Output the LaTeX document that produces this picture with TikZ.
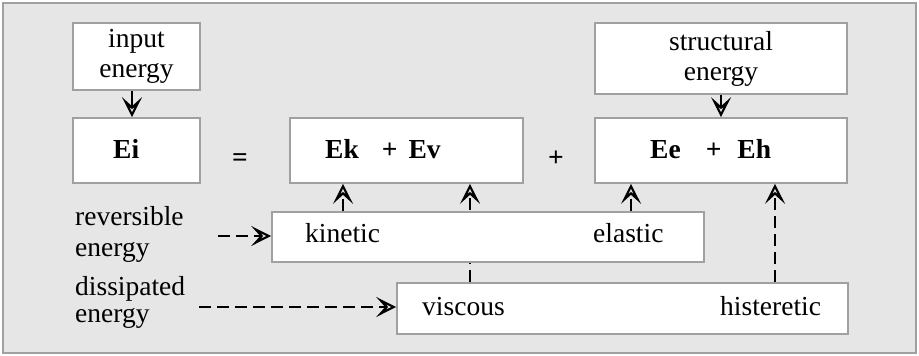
\documentclass[tikz,border=0pt]{standalone}
\usepackage{fontspec}
\setmainfont{Liberation Serif}
\usetikzlibrary{arrows.meta}
\pgfdeclarelayer{bg}
\pgfsetlayers{bg,main}
\definecolor{bggray}{HTML}{E6E6E6}
\definecolor{boxgray}{HTML}{A0A0A0}
\begin{document}
\begin{tikzpicture}[x=1pt,y=-1pt,
  font=\fontsize{27.5}{30}\selectfont,
  box/.style={draw=boxgray, line width=1.6pt, fill=white, inner sep=0pt},
  lbl/.style={inner sep=0pt},
  arr/.style={line width=2.6pt, -{Stealth[open, length=20pt, width=20pt, inset=9pt, line width=2.2pt]}},
  darr/.style={arr, dash pattern=on 12pt off 6pt}]
\useasboundingbox (0,0) rectangle (919,356);
\begin{pgfonlayer}{bg}
\draw[fill=bggray, draw=boxgray, line width=1.5pt] (3,3) rectangle (916,353);
\end{pgfonlayer}
% boxes
\node[box, minimum width=127pt, minimum height=67pt, align=center] (in) at (136.5,56.5) {input\\energy};
\node[box, minimum width=127pt, minimum height=65pt] (ei) at (136.5,150.5) {};
\node[box, minimum width=233pt, minimum height=65pt] (ek) at (406.5,150.5) {};
\node[box, minimum width=252pt, minimum height=71pt, align=center] (st) at (721,58.5) {structural\\energy};
\node[box, minimum width=252pt, minimum height=65pt] (ee) at (721,150.5) {};
\node[box, minimum width=432pt, minimum height=50pt] (kin) at (488,237) {};
\node[box, minimum width=451pt, minimum height=51pt] (visc) at (622.5,308.5) {};
% texts
\node[lbl, anchor=base west] (tei) at (113,158) {\textbf{Ei}};
\node[lbl, anchor=base west] (tek) at (325,158) {\textbf{Ek}\hspace{23pt}\textbf{+}\hspace{11pt}\textbf{Ev}};
\node[lbl, anchor=base west] (tee) at (650,158) {\textbf{Ee}\hspace{25pt}\textbf{+}\hspace{16pt}\textbf{Eh}};
\node[lbl] (eq) at (240,160) {\textbf{=}};
\node[lbl] (pl) at (556,159) {\textbf{+}};
\node[lbl, anchor=base west] (rv1) at (75,225) {reversible};
\node[lbl, anchor=base west] (rv2) at (75,256) {energy};
\node[lbl, anchor=base west] (ds1) at (75,295) {dissipated};
\node[lbl, anchor=base west] (ds2) at (75,322) {energy};
\node[lbl, anchor=base west] (tkin) at (305,242) {kinetic};
\node[lbl, anchor=base west] (tel) at (593,242) {elastic};
\node[lbl, anchor=base west] (tvis) at (422,315) {viscous};
\node[lbl, anchor=base west] (this) at (720,315) {histeretic};
% connectors
\coordinate (xi) at (132,0);
\coordinate (xa) at (343,0);
\coordinate (xb) at (470,0);
\coordinate (xc) at (631,0);
\coordinate (xd) at (775,0);
\coordinate (r0) at (218,236);
\coordinate (d0) at (199,307);
\draw[arr] (in.south -| xi) -- (ei.north -| xi);
\draw[arr] (st.south) -- (ee.north);
\draw[darr] (kin.north -| xa) -- (ek.south -| xa);
\begin{pgfonlayer}{bg}
\draw[darr] (visc.north -| xb) -- (ek.south -| xb);
\end{pgfonlayer}
\draw[darr] (kin.north -| xc) -- (ee.south -| xc);
\draw[darr] (visc.north -| xd) -- (ee.south -| xd);
\draw[darr] (r0) -- (r0 -| kin.west);
\draw[darr] (d0) -- (d0 -| visc.west);
\end{tikzpicture}
\end{document}
